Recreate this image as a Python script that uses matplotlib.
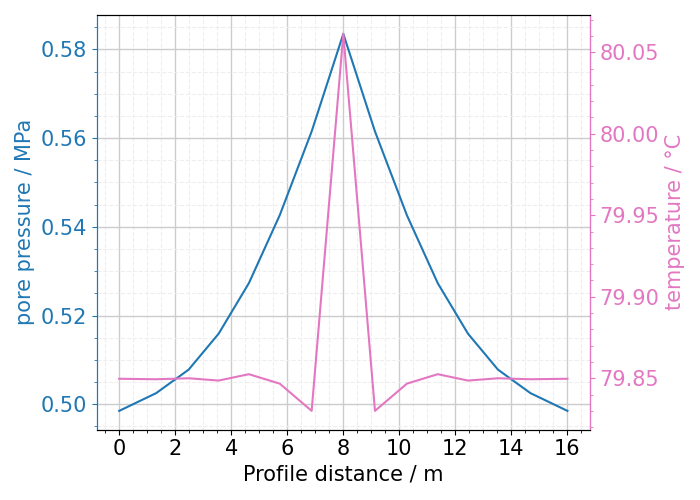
import numpy as np
import matplotlib.pyplot as plt
from matplotlib.ticker import MultipleLocator

# profile along the line, 15 nodes (slightly graded mesh, symmetric about 8 m)
distance = [0.0, 1.32, 2.48, 3.55, 4.63, 5.73, 6.87, 8.0,
            9.13, 10.27, 11.37, 12.45, 13.52, 14.68, 16.0]
pressure = [0.4985, 0.5025, 0.5078, 0.5159, 0.5273, 0.5426, 0.5615, 0.5835,
            0.5615, 0.5426, 0.5273, 0.5159, 0.5078, 0.5025, 0.4985]
temperature = [79.8497, 79.8494, 79.8500, 79.8486, 79.8525, 79.8467, 79.8300, 80.0613,
               79.8300, 79.8467, 79.8525, 79.8486, 79.8500, 79.8494, 79.8497]

c_p = 'tab:blue'
c_t = 'tab:pink'
fs = 15

fig, ax = plt.subplots(figsize=(7, 5), dpi=100)
ax.plot(distance, pressure, color=c_p, lw=1.5)
ax.set_xlabel('Profile distance / m', fontsize=fs)
ax.set_ylabel('pore pressure / MPa', color=c_p, fontsize=fs)
ax.xaxis.set_major_locator(MultipleLocator(2))
ax.xaxis.set_minor_locator(MultipleLocator(0.5))
ax.yaxis.set_major_locator(MultipleLocator(0.02))
ax.yaxis.set_minor_locator(MultipleLocator(0.005))
ax.tick_params(axis='both', labelsize=fs)
ax.tick_params(axis='y', which='both', colors=c_p)
ax.grid(which='major', color='#cccccc', lw=1)
ax.grid(which='minor', color='#eeeeee', ls='--', lw=0.8)
ax.spines['left'].set_color(c_p)

ax2 = ax.twinx()
ax2.plot(distance, temperature, color=c_t, lw=1.5)
ax2.set_ylabel('temperature / °C', color=c_t, fontsize=fs)
ax2.yaxis.set_major_locator(MultipleLocator(0.05))
ax2.yaxis.set_minor_locator(MultipleLocator(0.01))
ax2.tick_params(axis='y', which='both', colors=c_t, labelsize=fs)
ax2.spines['right'].set_color(c_t)
ax2.spines['left'].set_color(c_p)

plt.tight_layout()
plt.savefig('out.png')
